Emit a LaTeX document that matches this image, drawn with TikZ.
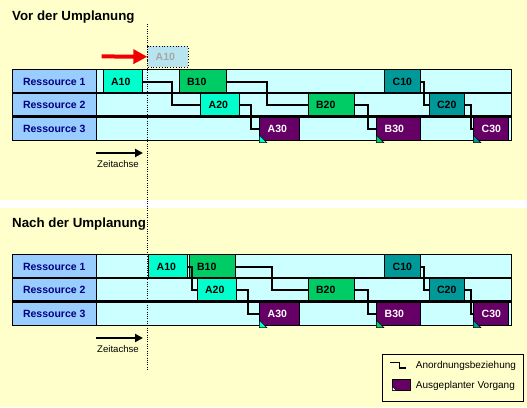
\documentclass[tikz,border=0pt]{standalone}
\usepackage{fontspec}
\setmainfont{Liberation Sans}
\usepackage{xcolor}
\usepackage{tikz}
\usetikzlibrary{arrows.meta}
\definecolor{plan-bg}{RGB}{255, 255, 204}
\definecolor{plan-res}{RGB}{153, 204, 255}
\definecolor{plan-row}{RGB}{204, 255, 255}
\definecolor{plan-a}{RGB}{0, 255, 204}
\definecolor{plan-b}{RGB}{0, 204, 102}
\definecolor{plan-c}{RGB}{0, 153, 153}
\definecolor{plan-out}{RGB}{102, 0, 102}
\definecolor{plan-navy}{RGB}{0, 0, 128}
\definecolor{plan-ghost}{RGB}{184, 228, 240}
\definecolor{plan-red}{RGB}{240, 0, 0}
\tikzset{
  task/.style={draw, line width=0.8pt, anchor=north west, inner xsep=8pt, inner ysep=0pt,
    minimum height=23.67pt, text width=#1, align=left,
    font=\bfseries\fontsize{10.5}{12}\selectfont},
  outtask/.style={task=#1, fill=plan-out, text=white},
  res/.style={draw, line width=0.8pt, fill=plan-res, anchor=north west, inner sep=0pt,
    minimum width=83.7pt, minimum height=23.67pt, text=plan-navy,
    font=\bfseries\fontsize{10.5}{12}\selectfont},
  link/.style={line width=2pt},
  rowsep/.style={line width=2.4pt},
  small/.style={inner sep=0pt, font=\fontsize{9.6}{11}\selectfont},
}

\begin{document}
\begin{tikzpicture}[x=1pt, y=-1pt]
          \fill[plan-bg] (0, 0) rectangle (527, 200);
          \fill[white] (0, 200) rectangle (527, 207.7);
          \fill[plan-bg] (0, 207.7) rectangle (527, 407);
          \useasboundingbox (0, 0) rectangle (527, 407);

          % rows and the tasks both plans share
          \foreach \p/\dy in {t/0, b/185} {
            \begin{scope}[shift={(0, \dy)}]
              \foreach \i/\y in {1/69.3, 2/92.97, 3/116.63} {
                \fill[plan-row] (95.7, \y) rectangle ++(416, 23.67);
                \node[res] (\p-r\i) at (12, \y) {Ressource \i};
              }
              \node[task=19.4pt, fill=plan-c] (\p-c10) at (384.3, 69.3) {C10};
              \node[task=30.6pt, fill=plan-b] (\p-b20) at (307.7, 92.97) {B20};
              \node[task=19pt, fill=plan-c] (\p-c20) at (428.7, 92.97) {C20};
              \node[outtask=23.7pt] (\p-a30) at (259.3, 116.63) {A30};
              \node[outtask=27.4pt] (\p-b30) at (376.3, 116.63) {B30};
              \node[outtask=18.4pt] (\p-c30) at (473.3, 116.63) {C30};
            \end{scope}
          }

          % before
          \node[task=23pt, fill=plan-a] (t-a10) at (102.7, 69.3) {A10};
          \node[task=31pt, fill=plan-b] (t-b10) at (178.7, 69.3) {B10};
          \node[task=23pt, fill=plan-a] (t-a20) at (200.3, 92.97) {A20};
          \node[task=24.4pt, dotted, fill=plan-ghost, text=black!35, minimum height=20.7pt] (ghost) at (147.3, 46) {A10};

          % after
          \node[task=23pt, fill=plan-a] (b-a10) at (148.3, 254.3) {A10};
          \node[task=30.6pt, fill=plan-b] (b-b10) at (188.7, 254.3) {B10};
          \node[task=23pt, fill=plan-a] (b-a20) at (196.7, 277.97) {A20};

          \foreach \p/\dy in {t/0, b/185} {
            \begin{scope}[shift={(0, \dy)}]
              \draw[line width=1pt] (12, 69.3) rectangle (511.7, 140.3);
              \draw[rowsep] (12, 92.97) -- (511.7, 92.97);
              \draw[rowsep] (12, 116.63) -- (511.7, 116.63);
              \foreach \n/\c in {a30/plan-a, b30/plan-b, c30/plan-c}
                \filldraw[fill=\c, line width=0.5pt] ([yshift=-1.4pt]\p-\n.south west) -- ++(7.5, 0) -- ++(-7.5, -7.5) -- cycle;
              \draw[link] (\p-c10.east) -- ++(3.5, 0) |- (\p-c20.west);
              \draw[link] (\p-b20.east) -- ++(12.4, 0) |- (\p-b30.west);
              \draw[link] (\p-c20.east) -- ++(6.3, 0) |- (\p-c30.west);

              \coordinate (\p-t0) at (96, 153);
              \coordinate (\p-t1) at (143, 153);
              \draw[line width=2pt, -{Triangle[length=8pt, width=8pt]}] (\p-t0) -- (\p-t1);
              \node[small, anchor=base] (\p-axis) at (118, 167.5) {Zeitachse};
            \end{scope}
          }

          \draw[link] (t-a10.east) -- ++(29, 0) |- (t-a20.west);
          \draw[link] (t-b10.east) -- ++(40, 0) |- (t-b20.west);
          \draw[link] (t-a20.east) -- ++(10.7, 0) |- (t-a30.west);
          \draw[link] (b-a10.east) -- ++(3.5, 0) |- (b-a20.west);
          \draw[link] (b-b10.east) -- ++(35.7, 0) |- (b-b20.west);
          \draw[link] (b-a20.east) -- ++(11, 0) |- (b-a30.west);

          \coordinate (push) at (101.7, 56.4);
          \draw[plan-red, line width=4pt, -{Triangle[length=14pt, width=14pt]}] (push) -- (ghost.west);

          \coordinate (now-top) at (147.3, 24);
          \coordinate (now-bottom) at (147.3, 370);
          \draw[line width=1pt, dash pattern=on 1pt off 1.3pt] (now-top) -- (now-bottom);

          \node[anchor=base west, inner sep=0pt, font=\bfseries\fontsize{13.3}{15}\selectfont] (t-title) at (12, 20) {Vor der Umplanung};
          \node[anchor=base west, inner sep=0pt, font=\bfseries\fontsize{13.3}{15}\selectfont] (b-title) at (12, 227.3) {Nach der Umplanung};

          % legend
          \node[draw, line width=1pt, fill=plan-bg, anchor=north west, inner sep=0pt,
            minimum width=140.4pt, minimum height=46.4pt] (legend) at (382.3, 354.3) {};
          \draw[line width=1pt] (390, 362.3) -- (399, 362.3) -- (399, 368.3);
          \draw[line width=2pt] (398.5, 368.3) -- (406, 368.3);
          \node[small, anchor=base west, font=\fontsize{10}{12}\selectfont] (leg-link) at (415.7, 368.3) {Anordnungsbeziehung};
          \node[draw, fill=plan-out, anchor=north west, inner sep=0pt,
            minimum width=17.7pt, minimum height=10.7pt] (leg-box) at (392.3, 379.3) {};
          \filldraw[fill=white, line width=0.5pt] (leg-box.south west) -- ++(4, 0) -- ++(-4, -4) -- cycle;
          \node[small, anchor=base west, font=\fontsize{10}{12}\selectfont] (leg-out) at (415.7, 388.3) {Ausgeplanter Vorgang};

        \end{tikzpicture}
\end{document}
